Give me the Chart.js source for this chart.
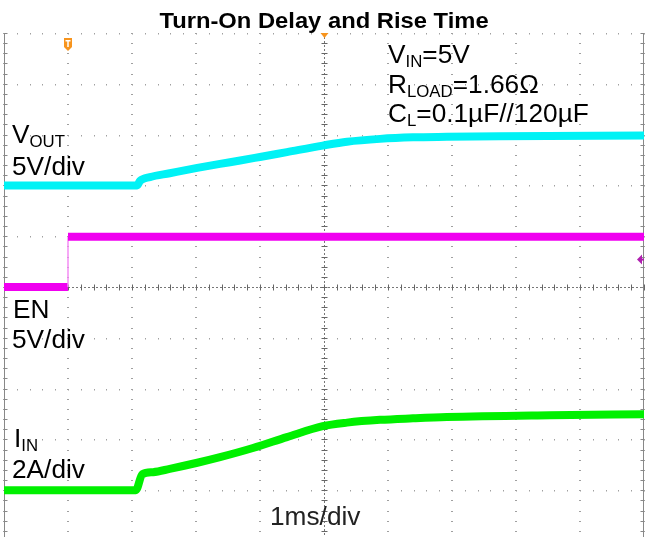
<!DOCTYPE html>
<html>
<head>
<meta charset="utf-8">
<script src="https://cdn.jsdelivr.net/npm/chart.js@4.4.0/dist/chart.umd.min.js"></script>
<style>
  html, body { margin: 0; padding: 0; background: #fff; overflow: hidden; }
  #wrap { position: absolute; left: 0; top: 0; width: 660px; height: 560px; }
</style>
</head>
<body>
<div id="wrap"><canvas id="scope" width="660" height="560"></canvas></div>
<script>
// --- Data (1 ms/div, t = 0 at the EN edge / trigger) ---
const timeMin = -1;
const timeMax = 9;

// VOUT, 5 V/div
const voutTime  = [-1, 1.08, 1.125, 1.28, 1.59, 2.02, 2.375, 2.69, 3.0, 3.42, 3.98, 4.36, 4.875, 5.39, 5.92, 6.75, 9];
const voutVolts = [0, 0, 0.44, 0.82, 1.20, 1.72, 2.12, 2.45, 2.80, 3.28, 3.92, 4.30, 4.58, 4.73, 4.78, 4.83, 4.92];

// EN, 5 V/div
const enTime  = [-1, 0, 0, 9];
const enVolts = [0, 0, 4.95, 4.95];
const enTrigLevel = 2.7;

// IIN, 2 A/div
const iinTime = [-1, 1.06, 1.16, 1.33, 1.59, 2.02, 2.375, 2.89, 3.42, 3.98, 4.36, 4.875, 5.39, 5.92, 7.53, 9];
const iinAmps = [0, 0, 0.63, 0.71, 0.84, 1.08, 1.30, 1.66, 2.09, 2.52, 2.66, 2.77, 2.83, 2.88, 2.95, 2.99];

const FONT = "'Liberation Sans', Arial, sans-serif";
const SX = 1.05; // text in the shot is a bit wide

function pts(xs, ys) {
  return xs.map((t, i) => ({x: t, y: ys[i]}));
}

// --- text helper: parts = [[text, isSub], ...] ---
function drawLabel(ctx, x, y, parts, size, opts) {
  opts = opts || {};
  ctx.save();
  ctx.translate(x, y);
  ctx.scale(opts.sx || SX, 1);
  ctx.fillStyle = opts.color || '#000';
  ctx.textBaseline = 'alphabetic';
  ctx.textAlign = 'left';
  let cx = 0;
  if (opts.center) {
    let w = 0;
    parts.forEach(p => {
      ctx.font = (opts.weight || '') + ' ' + (p[1] ? 16 : size) + 'px ' + FONT;
      w += ctx.measureText(p[0]).width;
    });
    cx = -w / 2;
  }
  parts.forEach(p => {
    ctx.font = (opts.weight || '') + ' ' + (p[1] ? 16 : size) + 'px ' + FONT;
    ctx.fillText(p[0], cx, p[1] ? 4 : 0);
    cx += ctx.measureText(p[0]).width;
  });
  ctx.restore();
}

// --- Scope graticule ---
const graticule = {
  id: 'graticule',
  beforeDatasetsDraw(chart) {
    const ctx = chart.ctx;
    const a = chart.chartArea;
    const xs = chart.scales.x;
    const ys = chart.scales.yEn; // 5 V/div, 0 at centre
    ctx.save();

    // dotted major lines
    ctx.fillStyle = '#a0a0a0';
    for (let k = timeMin; k <= timeMax; k++) {
      const px = Math.round(xs.getPixelForValue(k));
      for (let v = -25; v <= 25; v++) {
        const py = Math.round(ys.getPixelForValue(v));
        ctx.fillRect(px - 1, py, 2, 1);
      }
    }
    for (let v = -25; v <= 25; v += 5) {
      const py = Math.round(ys.getPixelForValue(v));
      for (let t = timeMin; t <= timeMax + 0.001; t += 0.2) {
        const px = Math.round(xs.getPixelForValue(t));
        ctx.fillRect(px, py, 1, 1.5);
      }
    }

    // centre cross with minor ticks
    const cx = Math.round(xs.getPixelForValue(4)) + 0.5;
    const cy = Math.round(ys.getPixelForValue(0)) + 0.5;
    ctx.strokeStyle = '#777';
    ctx.lineWidth = 1;
    ctx.setLineDash([2, 2]);
    ctx.beginPath();
    ctx.moveTo(a.left, cy); ctx.lineTo(a.right, cy);
    ctx.moveTo(cx, a.top); ctx.lineTo(cx, a.bottom);
    ctx.stroke();
    ctx.setLineDash([]);
    ctx.strokeStyle = '#666';
    ctx.beginPath();
    for (let t = timeMin; t <= timeMax + 0.001; t += 0.2) {
      const px = Math.round(xs.getPixelForValue(t)) + 0.5;
      ctx.moveTo(px, cy - 3); ctx.lineTo(px, cy + 3);
    }
    for (let v = -25; v <= 25; v++) {
      const py = Math.round(ys.getPixelForValue(v)) + 0.5;
      ctx.moveTo(cx - 3, py); ctx.lineTo(cx + 3, py);
    }
    ctx.stroke();

    // side frame with ticks
    const lx = Math.round(a.left) + 0.5;
    const rx = Math.round(a.right) - 0.5;
    ctx.strokeStyle = '#888';
    ctx.beginPath();
    ctx.moveTo(lx, a.top); ctx.lineTo(lx, a.bottom);
    ctx.moveTo(rx, a.top); ctx.lineTo(rx, a.bottom);
    for (let v = -25; v <= 25; v++) {
      const py = Math.round(ys.getPixelForValue(v)) + 0.5;
      ctx.moveTo(lx, py); ctx.lineTo(lx + 3, py);
      ctx.moveTo(rx, py); ctx.lineTo(rx - 3, py);
    }
    ctx.stroke();
    ctx.restore();
  },
  afterDatasetsDraw(chart) {
    const ctx = chart.ctx;
    const a = chart.chartArea;
    const xs = chart.scales.x;
    const yEn = chart.scales.yEn;
    ctx.save();

    // trigger "T" marker
    const tx = Math.round(xs.getPixelForValue(0));
    ctx.fillStyle = '#F7941D';
    ctx.beginPath();
    ctx.moveTo(tx - 4, 38);
    ctx.lineTo(tx + 4, 38);
    ctx.lineTo(tx + 4, 47);
    ctx.lineTo(tx, 51);
    ctx.lineTo(tx - 4, 47);
    ctx.closePath();
    ctx.fill();
    ctx.fillStyle = '#fff';
    ctx.fillRect(tx - 2.5, 40, 5, 1.5);
    ctx.fillRect(tx - 0.75, 40, 1.5, 7);

    // horizontal position marker
    const hx = xs.getPixelForValue(4) + 0.5;
    ctx.fillStyle = '#F7941D';
    ctx.beginPath();
    ctx.moveTo(hx - 4, a.top);
    ctx.lineTo(hx + 4, a.top);
    ctx.lineTo(hx, a.top + 5);
    ctx.closePath();
    ctx.fill();

    // EN trigger level arrow
    const ly = yEn.getPixelForValue(enTrigLevel);
    ctx.fillStyle = '#B020B0';
    ctx.beginPath();
    ctx.moveTo(a.right - 7, ly);
    ctx.lineTo(a.right - 2, ly - 5);
    ctx.lineTo(a.right - 2, ly + 5);
    ctx.closePath();
    ctx.fill();
    ctx.fillRect(a.right - 3, ly - 1, 3, 2);
    ctx.restore();

    // text
    drawLabel(ctx, 324, 28, [['Turn-On Delay and Rise Time', false]], 22, {weight: 'bold', center: true, sx: 1.08});
    drawLabel(ctx, 388, 63, [['V', false], ['IN', true], ['=5V', false]], 25);
    drawLabel(ctx, 388, 93, [['R', false], ['LOAD', true], ['=1.66\u03A9', false]], 25);
    drawLabel(ctx, 388, 122, [['C', false], ['L', true], ['=0.1\u00B5F//120\u00B5F', false]], 25);
    drawLabel(ctx, 12, 143, [['V', false], ['OUT', true]], 25);
    drawLabel(ctx, 12, 175, [['5V/div', false]], 25);
    drawLabel(ctx, 13, 318, [['EN', false]], 25);
    drawLabel(ctx, 12, 348, [['5V/div', false]], 25);
    drawLabel(ctx, 14, 447, [['I', false], ['IN', true]], 25);
    drawLabel(ctx, 12, 478, [['2A/div', false]], 25);
    drawLabel(ctx, 270, 525, [['1ms/div', false]], 25, {color: '#222'});
  }
};

const isEdge = c => c.p0.parsed.x === c.p1.parsed.x;

new Chart(document.getElementById('scope'), {
  type: 'line',
  data: {
    datasets: [
      {
        label: 'VOUT',
        data: pts(voutTime, voutVolts),
        yAxisID: 'yVout',
        borderColor: '#00F2F5',
        borderWidth: 8,
        cubicInterpolationMode: 'monotone',
        pointRadius: 0
      },
      {
        label: 'EN',
        data: pts(enTime, enVolts),
        yAxisID: 'yEn',
        borderColor: '#F000F0',
        borderWidth: 8,
        tension: 0,
        pointRadius: 0,
        segment: {
          borderWidth: c => isEdge(c) ? 1.5 : 8,
          borderColor: c => isEdge(c) ? '#F58CF5' : '#F000F0'
        }
      },
      {
        label: 'IIN',
        data: pts(iinTime, iinAmps),
        yAxisID: 'yIin',
        borderColor: '#00F000',
        borderWidth: 8,
        cubicInterpolationMode: 'monotone',
        pointRadius: 0
      }
    ]
  },
  options: {
    responsive: false,
    animation: false,
    layout: { padding: { left: 4, top: 33, right: 16, bottom: 19 } },
    plugins: {
      legend: { display: false },
      tooltip: { enabled: false }
    },
    scales: {
      x:     { type: 'linear', min: timeMin, max: timeMax, display: false },
      yVout: { type: 'linear', min: -35, max: 15, display: false },
      yEn:   { type: 'linear', min: -25, max: 25, display: false },
      yIin:  { type: 'linear', min: -2,  max: 18, display: false }
    }
  },
  plugins: [graticule]
});
</script>
</body>
</html>
